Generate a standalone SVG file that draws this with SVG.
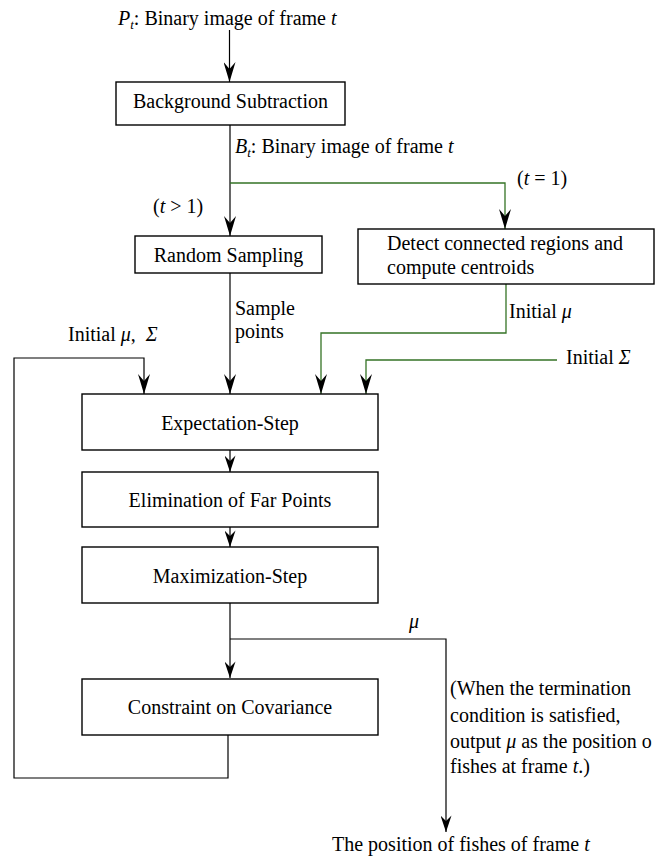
<svg xmlns="http://www.w3.org/2000/svg" width="669" height="858" viewBox="0 0 669 858">
<style>
text{font-family:"Liberation Serif","Times New Roman",serif;font-size:20px;fill:#000}
.c{text-anchor:middle}
.i{font-style:italic}
.box{fill:#fff;stroke:#000;stroke-width:1.4}
.ln{fill:none;stroke:#000;stroke-width:1.2}
.gr{fill:none;stroke:#357326;stroke-width:1.3}
</style>
<defs>
<marker id="ah" markerUnits="userSpaceOnUse" viewBox="0 0 20 12" refX="20" refY="6" markerWidth="20" markerHeight="12" orient="auto">
<path d="M0,0 L20,6 L0,12 L7,6 Z" fill="#000"/>
</marker>
<marker id="ahs" markerUnits="userSpaceOnUse" viewBox="0 0 18 12" refX="18" refY="6" markerWidth="17" markerHeight="11" orient="auto">
<path d="M0,0 L18,6 L0,12 L6,6 Z" fill="#000"/>
</marker>
</defs>
<g id="connectors">
<path class="ln" d="M229.5,30 V82" marker-end="url(#ah)"/>
<path class="ln" d="M230,125 V236" marker-end="url(#ah)"/>
<path class="gr" d="M230,183 H505 V229" marker-end="url(#ah)"/>
<path class="ln" d="M230,273 V394" marker-end="url(#ah)"/>
<path class="gr" d="M506,284 V333 H321 V394" marker-end="url(#ah)"/>
<path class="gr" d="M557,360 H366 V394" marker-end="url(#ah)"/>
<path class="ln" d="M228,735 V778 H14 V358 H144 V394" marker-end="url(#ah)"/>
<path class="ln" d="M230,450 V472" marker-end="url(#ahs)"/>
<path class="ln" d="M230,527 V547" marker-end="url(#ahs)"/>
<path class="ln" d="M230,603 V678" marker-end="url(#ahs)"/>
<path class="ln" d="M230,639 H446 V832" marker-end="url(#ahs)"/>
</g>
<g id="bg-sub">
<rect class="box" x="116" y="82" width="229" height="43"/>
<text class="c" x="230.5" y="108">Background Subtraction</text>
</g>
<g id="random-sampling">
<rect class="box" x="135" y="236" width="187" height="37"/>
<text class="c" x="228.5" y="262">Random Sampling</text>
</g>
<g id="detect">
<rect class="box" x="358" y="229" width="296" height="55"/>
<text x="387" y="250">Detect connected regions and</text>
<text x="387" y="274">compute centroids</text>
</g>
<g id="e-step">
<rect class="box" x="82" y="394" width="296" height="56"/>
<text class="c" x="230" y="430">Expectation-Step</text>
</g>
<g id="elim">
<rect class="box" x="82" y="472" width="296" height="55"/>
<text class="c" x="230" y="507">Elimination of Far Points</text>
</g>
<g id="m-step">
<rect class="box" x="82" y="547" width="296" height="56"/>
<text class="c" x="230" y="583">Maximization-Step</text>
</g>
<g id="constraint">
<rect class="box" x="82" y="679" width="296" height="56"/>
<text class="c" x="230" y="714">Constraint on Covariance</text>
</g>
<g id="labels">
<text x="118" y="25"><tspan class="i">P</tspan><tspan class="i" font-size="13" dy="4">t</tspan><tspan dy="-4">: Binary image of frame </tspan><tspan class="i">t</tspan></text>
<text x="235" y="153"><tspan class="i">B</tspan><tspan class="i" font-size="13" dy="4">t</tspan><tspan dy="-4">: Binary image of frame </tspan><tspan class="i">t</tspan></text>
<text x="517" y="185">(<tspan class="i">t</tspan> = 1)</text>
<text x="153" y="213">(<tspan class="i">t</tspan> &gt; 1)</text>
<text x="235" y="315">Sample</text>
<text x="235" y="338">points</text>
<text x="509" y="318">Initial <tspan class="i">μ</tspan></text>
<text x="68" y="341" xml:space="preserve">Initial <tspan class="i">μ</tspan>,  <tspan class="i">Σ</tspan></text>
<text x="566" y="364">Initial <tspan class="i">Σ</tspan></text>
<text x="409" y="628" class="i">μ</text>
<text x="450" y="695">(When the termination</text>
<text x="450" y="722">condition is satisfied,</text>
<text x="450" y="748">output <tspan class="i">μ</tspan> as the position o</text>
<text x="450" y="773">fishes at frame <tspan class="i">t</tspan>.)</text>
<text x="332" y="851">The position of fishes of frame <tspan class="i">t</tspan></text>
</g>
</svg>
